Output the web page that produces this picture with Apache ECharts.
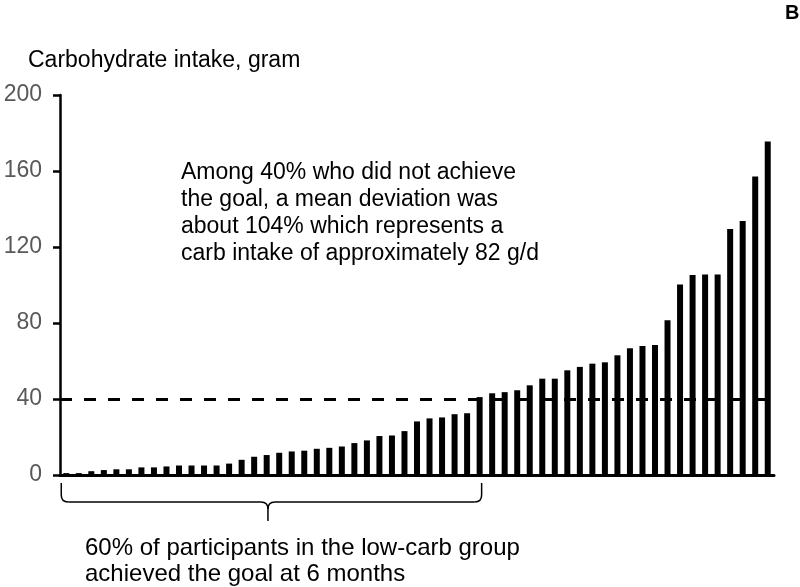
<!DOCTYPE html>
<html>
<head>
<meta charset="utf-8">
<script src="https://cdn.jsdelivr.net/npm/echarts@6/dist/echarts.min.js"></script>
<style>
  html, body { margin: 0; padding: 0; background: #fff; }
  #container { width: 800px; height: 587px; }
</style>
</head>
<body>
<div id="container"></div>
<script>
// carb intake per participant at 6 months, sorted ascending (g/d)
var carbIntake = [
  1, 1, 2, 2.6, 3, 3, 4, 4, 4.5, 5,
  5, 5, 5, 6, 8, 9.6, 10.5, 11.7, 12.4, 12.8,
  13.8, 14.3, 15, 16.8, 18.2, 20.5, 20.8, 23.1, 28.2, 29.8,
  30.3, 32, 32.5, 41, 43, 43.6, 44.6, 47.2, 50.7, 50.7,
  55.1, 56.9, 58.6, 59.3, 63, 66.7, 67.9, 68.4, 81.4, 100.3,
  105.3, 105.5, 105.5, 129.5, 133.7, 157.1, 175.5
];
var participants = carbIntake.map(function(v, i) { return "P" + (i + 1); });
var yTicks = [0, 40, 80, 120, 160, 200];
var goalLine = 40;
var firstMissIndex = 33; // first participant above the goal

var annotation = [
  "Among 40% who did not achieve",
  "the goal, a mean deviation was",
  "about 104% which represents a",
  "carb intake of approximately 82 g/d"
];
var braceText = [
  "60% of participants in the low-carb group",
  "achieved the goal at 6 months"
];

var FONT = "Liberation Sans, Arial, sans-serif";

var chartDom = document.getElementById("container");
var myChart = echarts.init(chartDom, null, { renderer: "canvas" });

var option = {
  animation: false,
  title: {
    text: "Carbohydrate intake, gram",
    left: 28,
    top: 49,
    padding: 0,
    textStyle: { fontFamily: FONT, fontSize: 23, fontWeight: "normal", color: "#000" }
  },
  grid: { left: 60, top: 95, width: 714, height: 380 },
  xAxis: {
    type: "category",
    data: participants,
    axisLine: { lineStyle: { color: "#000", width: 3 } },
    axisTick: { show: false },
    axisLabel: { show: false }
  },
  yAxis: {
    type: "value",
    min: yTicks[0],
    max: yTicks[yTicks.length - 1],
    interval: yTicks[1] - yTicks[0],
    axisLine: { show: true, lineStyle: { color: "#000", width: 2.5 } },
    axisTick: { show: true, length: 7, lineStyle: { color: "#000", width: 2.5 } },
    axisLabel: { margin: 18, color: "#595959", fontSize: 23, fontFamily: FONT },
    splitLine: { show: false }
  },
  series: [
    {
      type: "bar",
      data: carbIntake,
      barWidth: 6,
      itemStyle: { color: "#000" },
      markLine: {
        silent: true,
        symbol: ["none", "none"],
        label: { show: false },
        lineStyle: { color: "#000", width: 3, type: [12, 12] },
        data: [{ yAxis: goalLine }]
      }
    }
  ]
};
option && myChart.setOption(option);

// brace under participants who reached the goal
var x0 = myChart.convertToPixel({ xAxisIndex: 0 }, 0) - 5;
var x1 = myChart.convertToPixel({ xAxisIndex: 0 }, firstMissIndex) + 2;
var xm = (x0 + x1) / 2 - 3.5;
var yTop = 483, yMid = 502, yTip = 521, r = 7;
var braceStyle = { stroke: "#000", lineWidth: 1.5, fill: null };

function seg(ax, ay, bx, by) {
  return { type: "line", shape: { x1: ax, y1: ay, x2: bx, y2: by }, style: braceStyle };
}
function curve(ax, ay, cx, cy, bx, by) {
  return {
    type: "bezierCurve",
    shape: { x1: ax, y1: ay, cpx1: cx, cpy1: cy, x2: bx, y2: by },
    style: braceStyle
  };
}

myChart.setOption({
  graphic: [
    {
      type: "text",
      left: 785,
      top: 3,
      style: { text: "B", fontFamily: FONT, fontSize: 20, fontWeight: "bold", fill: "#000" }
    },
    {
      type: "text",
      left: 181,
      top: 159,
      style: {
        text: annotation.join("\n"),
        fontFamily: FONT,
        fontSize: 23,
        lineHeight: 27,
        fill: "#000"
      }
    },
    {
      type: "group",
      children: [
        seg(x0, yTop, x0, yMid - r),
        curve(x0, yMid - r, x0, yMid, x0 + r, yMid),
        seg(x0 + r, yMid, xm - r, yMid),
        curve(xm - r, yMid, xm, yMid, xm, yMid + r),
        curve(xm + r, yMid, xm, yMid, xm, yMid + r),
        seg(xm, yMid + r, xm, yTip),
        seg(xm + r, yMid, x1 - r, yMid),
        curve(x1 - r, yMid, x1, yMid, x1, yMid - r),
        seg(x1, yMid - r, x1, yTop)
      ]
    },
    {
      type: "text",
      left: 85,
      top: 535,
      style: {
        text: braceText.join("\n"),
        fontFamily: FONT,
        fontSize: 24,
        lineHeight: 26,
        fill: "#000"
      }
    }
  ]
});
</script>
</body>
</html>
